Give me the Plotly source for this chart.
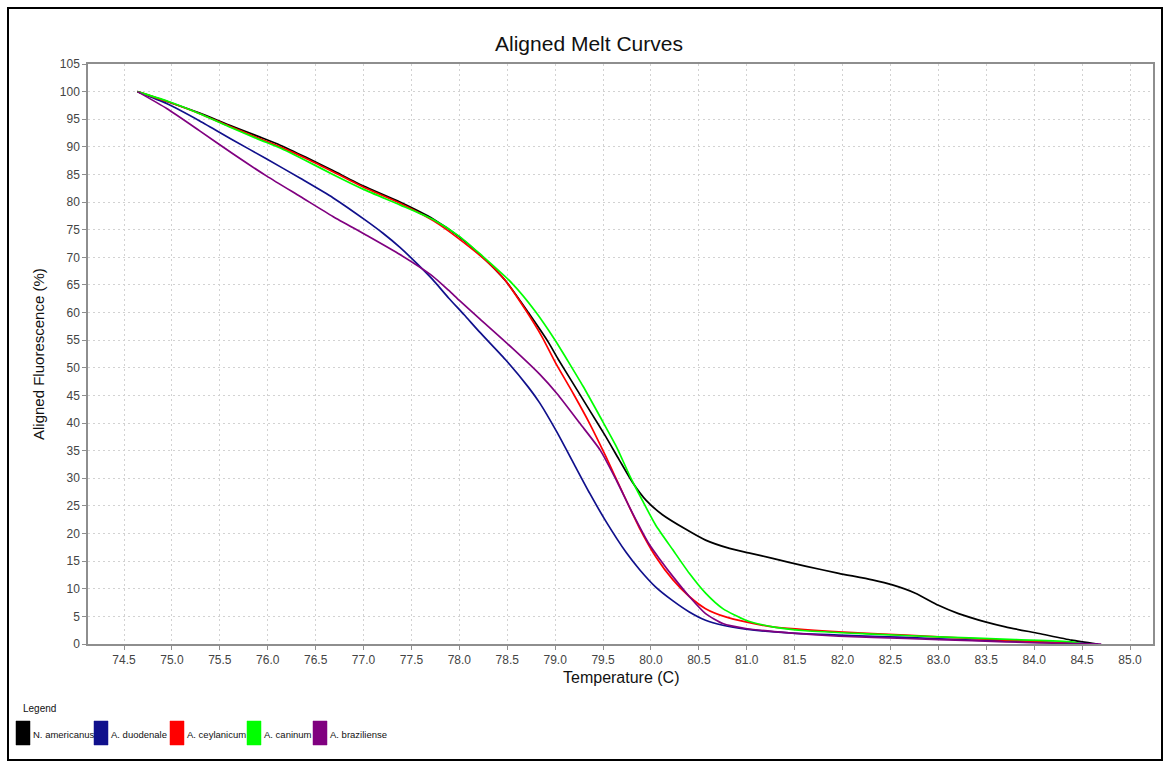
import plotly.graph_objects as go

# ---------------- data ----------------
series_names = ["N. americanus", "A. duodenale", "A. ceylanicum", "A. caninum", "A. braziliense"]
series_colors = ["#000000", "#10108c", "#ff0000", "#00ff00", "#800080"]

n_americanus_t = [74.64, 74.95, 75.29, 75.59, 75.90, 76.13, 76.40, 76.68, 77.00, 77.38, 77.73, 78.00,
                  78.21, 78.48, 78.72, 78.93, 79.03, 79.19, 79.36, 79.53, 79.67, 79.81, 79.95, 80.12,
                  80.36, 80.57, 80.82, 81.02, 81.27, 81.61, 81.96, 82.31, 82.52, 82.76, 83.00, 83.21,
                  83.49, 83.70, 84.05, 84.39, 84.66]
n_americanus_f = [100.0, 98.2, 96.1, 94.0, 91.9, 90.3, 88.1, 85.7, 82.9, 80.0, 76.9, 73.7,
                  70.6, 65.8, 60.0, 54.6, 51.6, 47.1, 42.3, 37.5, 33.3, 29.2, 26.0, 23.4,
                  20.8, 18.8, 17.3, 16.5, 15.5, 14.1, 12.8, 11.6, 10.7, 9.2, 7.0, 5.5,
                  4.0, 3.1, 1.9, 0.7, 0.0]

a_duodenale_t = [74.64, 74.95, 75.29, 75.64, 75.99, 76.34, 76.68, 77.03, 77.20, 77.38, 77.55, 77.72,
                 77.89, 78.05, 78.21, 78.48, 78.72, 78.84, 79.02, 79.19, 79.36, 79.53, 79.74, 79.88,
                 80.05, 80.23, 80.40, 80.57, 80.75, 80.99, 81.44, 81.96, 82.66, 83.35, 84.05, 84.67]
a_duodenale_f = [100.0, 97.8, 94.7, 91.2, 87.8, 84.3, 80.8, 76.6, 74.4, 71.8, 69.0, 66.0,
                 62.6, 59.6, 56.5, 51.5, 46.5, 43.6, 38.3, 32.8, 27.3, 22.2, 16.6, 13.5,
                 10.3, 7.8, 5.8, 4.3, 3.4, 2.7, 2.0, 1.6, 1.2, 0.7, 0.4, 0.0]

a_ceylanicum_t = [74.64, 74.95, 75.29, 75.59, 75.90, 76.13, 76.40, 76.68, 77.00, 77.38, 77.73, 78.00,
                  78.31, 78.48, 78.69, 78.86, 79.01, 79.19, 79.36, 79.53, 79.71, 79.88, 80.05, 80.23,
                  80.40, 80.57, 80.78, 80.99, 81.27, 81.96, 82.66, 83.35, 84.05, 84.50]
a_ceylanicum_f = [100.0, 98.2, 96.0, 93.8, 91.6, 90.0, 87.9, 85.5, 82.7, 79.8, 76.6, 73.3,
                  68.9, 65.8, 60.5, 55.7, 50.7, 45.3, 39.9, 33.9, 27.2, 21.0, 15.8, 11.6,
                  8.6, 6.4, 4.9, 4.0, 3.1, 2.2, 1.6, 1.0, 0.4, 0.0]

a_caninum_t = [74.64, 74.95, 75.29, 75.59, 75.90, 76.13, 76.40, 76.68, 77.00, 77.38, 77.73, 78.00,
               78.21, 78.55, 78.79, 79.00, 79.12, 79.29, 79.47, 79.64, 79.78, 79.91, 80.05, 80.23,
               80.40, 80.57, 80.75, 80.99, 81.27, 81.61, 82.31, 83.00, 83.80, 84.39, 84.50]
a_caninum_f = [100.0, 98.3, 96.0, 93.7, 91.4, 89.8, 87.5, 85.0, 82.3, 79.5, 76.8, 73.8,
               70.7, 65.3, 60.3, 55.0, 51.6, 46.7, 41.1, 35.7, 30.4, 26.0, 21.5, 17.0,
               12.8, 9.2, 6.4, 4.3, 3.1, 2.4, 1.8, 1.3, 0.8, 0.4, 0.0]

a_braziliense_t = [74.64, 74.95, 75.29, 75.64, 75.99, 76.34, 76.68, 77.03, 77.38, 77.72, 77.89, 78.00,
                   78.21, 78.55, 78.84, 79.02, 79.26, 79.47, 79.64, 79.81, 79.98, 80.09, 80.23, 80.40,
                   80.57, 80.75, 80.99, 81.44, 81.96, 82.66, 83.35, 84.05, 84.70]
a_braziliense_f = [100.0, 96.9, 92.9, 88.7, 84.7, 81.0, 77.4, 74.0, 70.5, 66.6, 64.0, 62.2,
                   58.9, 53.6, 48.8, 45.3, 39.9, 35.1, 29.6, 23.6, 18.1, 15.4, 12.2, 8.6,
                   5.5, 3.7, 2.8, 2.0, 1.4, 1.0, 0.6, 0.2, 0.0]

x_ticks = [74.5, 75.0, 75.5, 76.0, 76.5, 77.0, 77.5, 78.0, 78.5, 79.0, 79.5, 80.0,
           80.5, 81.0, 81.5, 82.0, 82.5, 83.0, 83.5, 84.0, 84.5, 85.0]
y_ticks = [0, 5, 10, 15, 20, 25, 30, 35, 40, 45, 50, 55, 60, 65, 70, 75, 80, 85, 90, 95, 100, 105]

all_t = [n_americanus_t, a_duodenale_t, a_ceylanicum_t, a_caninum_t, a_braziliense_t]
all_f = [n_americanus_f, a_duodenale_f, a_ceylanicum_f, a_caninum_f, a_braziliense_f]

# ---------------- layout geometry (pixels) ----------------
W, H = 1168, 767
PL, PR, PT, PB = 88, 1153, 64, 644          # plot area edges
X_RANGE = [74.124, 85.24]
Y_RANGE = [0, 105]


def px(xp):
    return (xp - PL) / (PR - PL)


def py(yp):
    return (PB - yp) / (PB - PT)


fig = go.Figure()
for t, f, name, col in zip(all_t, all_f, series_names, series_colors):
    fig.add_trace(go.Scatter(x=t, y=f, mode="lines", name=name,
                             line=dict(color=col, width=1.7, shape="spline", smoothing=0.6),
                             showlegend=False))

axis_font = dict(family="Liberation Sans, Arial, sans-serif", size=12, color="#444444")
fig.update_xaxes(range=X_RANGE, tickvals=x_ticks, ticktext=[f"{v:.1f}" for v in x_ticks],
                 showgrid=True, gridcolor="#d2d2d2", griddash="2px,3px", gridwidth=1,
                 showline=True, linecolor="#8e8e8e", linewidth=1.5, mirror=True,
                 ticks="outside", ticklen=4, tickcolor="#8e8e8e", tickfont=axis_font,
                 zeroline=False, fixedrange=True)
fig.update_yaxes(range=Y_RANGE, tickvals=y_ticks,
                 showgrid=True, gridcolor="#d2d2d2", griddash="2px,3px", gridwidth=1,
                 showline=True, linecolor="#8e8e8e", linewidth=1.5, mirror=True,
                 ticks="outside", ticklen=4, tickcolor="#8e8e8e", tickfont=axis_font,
                 zeroline=False, fixedrange=True)

legend_font = dict(family="Liberation Sans, Arial, sans-serif", size=9.5, color="#111111")

annotations = [
    dict(text="Temperature (C)", x=0.5, y=py(677), xref="paper", yref="paper",
         showarrow=False, xanchor="center", yanchor="middle",
         font=dict(family="Liberation Sans, Arial, sans-serif", size=16, color="#111111")),
    dict(text="Aligned Fluorescence (%)", x=px(38), y=0.5, xref="paper", yref="paper",
         showarrow=False, xanchor="center", yanchor="middle", textangle=-90,
         font=dict(family="Liberation Sans, Arial, sans-serif", size=15, color="#111111")),
    dict(text="Legend", x=px(21), y=py(708), xref="paper", yref="paper",
         showarrow=False, xanchor="left", yanchor="middle",
         font=dict(family="Liberation Sans, Arial, sans-serif", size=10, color="#111111")),
]

shapes = [
    # outer black frame
    dict(type="rect", xref="paper", yref="paper", x0=px(8), x1=px(1162), y0=py(760), y1=py(8),
         line=dict(color="#000000", width=2), fillcolor="rgba(0,0,0,0)", layer="above"),
]

legend_x = [16, 94, 170, 247, 313]   # left edge of each legend swatch (px)
for lx, name, col in zip(legend_x, series_names, series_colors):
    shapes.append(dict(type="rect", xref="paper", yref="paper",
                       x0=px(lx), x1=px(lx + 14), y0=py(745), y1=py(721),
                       line=dict(color=col, width=0.5), fillcolor=col))
    annotations.append(dict(text=name, x=px(lx + 15), y=py(734), xref="paper", yref="paper",
                            showarrow=False, xanchor="left", yanchor="middle",
                            font=legend_font))

fig.update_layout(
    width=W, height=H,
    margin=dict(l=PL, r=W - PR, t=PT, b=H - PB, autoexpand=False),
    paper_bgcolor="white", plot_bgcolor="white",
    title=dict(text="Aligned Melt Curves", x=589 / W, y=1 - 44 / H, xanchor="center", yanchor="middle",
               xref="container", yref="container",
               font=dict(family="Liberation Sans, Arial, sans-serif", size=21, color="#111111")),
    annotations=annotations, shapes=shapes, showlegend=False,
)

fig.write_html("out.html")
